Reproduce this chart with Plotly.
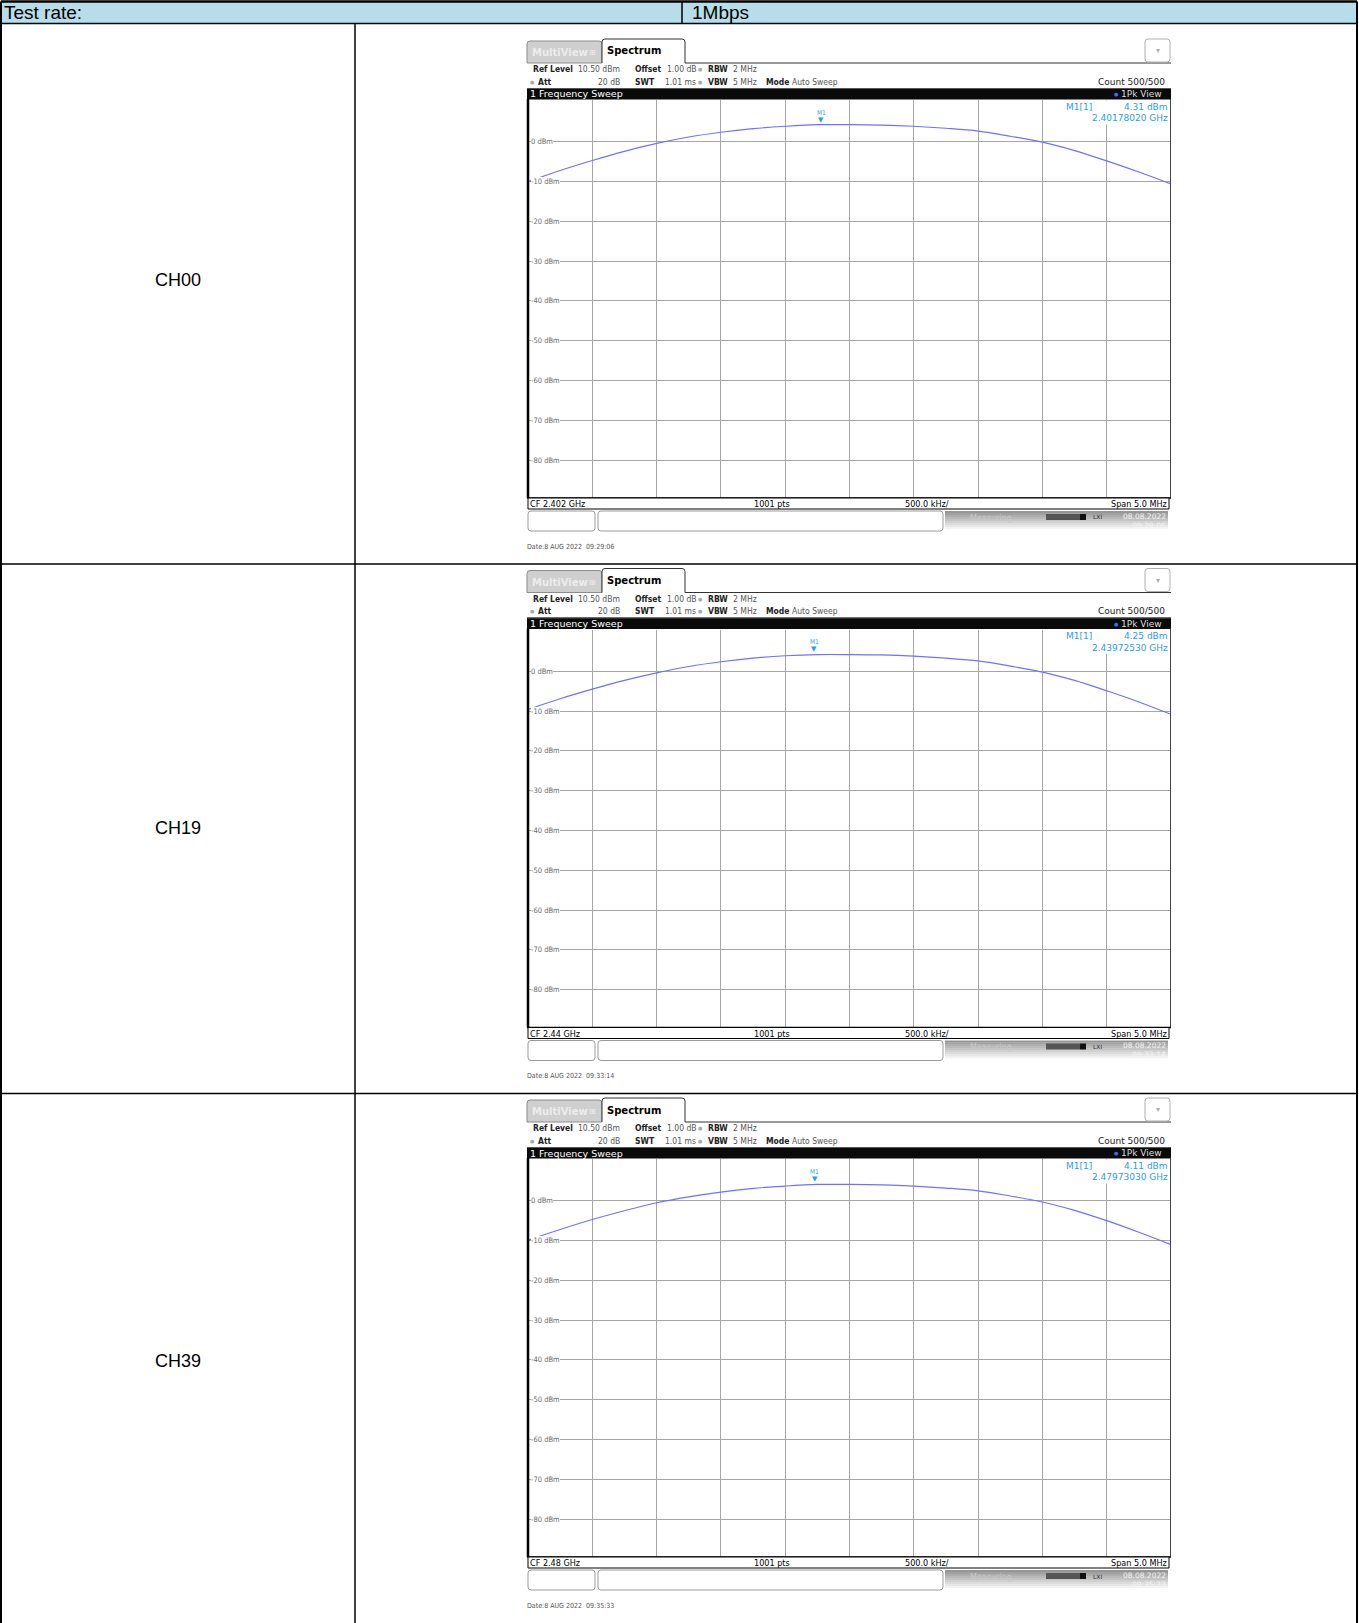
import plotly.graph_objects as go

W, H = 1359, 1623

# ---------------- data ----------------
header_left = "Test rate:"
header_right = "1Mbps"
channels = ["CH00", "CH19", "CH39"]
center_label = ["CF 2.402 GHz", "CF 2.44 GHz", "CF 2.48 GHz"]
center_ghz = [2.402, 2.44, 2.48]
marker_ghz = [2.40178020, 2.43972530, 2.47973030]
marker_dbm = [4.31, 4.25, 4.11]
dates = ["Date:8 AUG 2022  09:29:06", "Date:8 AUG 2022  09:33:14", "Date:8 AUG 2022  09:35:33"]

freq_offset_mhz = [-2.5, -2.25, -2.0, -1.75, -1.5, -1.25, -1.0, -0.75, -0.5, -0.25, 0.0,
                   0.25, 0.5, 0.75, 1.0, 1.25, 1.5, 1.75, 2.0, 2.25, 2.5]
trace_ch00 = [-10.0, -7.2, -4.7, -2.4, -0.4, 1.2, 2.4, 3.3, 3.9, 4.3, 4.3,
              4.2, 3.9, 3.4, 2.7, 1.4, -0.1, -2.2, -4.8, -7.6, -10.6]
trace_ch19 = [-9.6, -6.9, -4.5, -2.3, -0.4, 1.2, 2.4, 3.3, 3.9, 4.2, 4.2,
              4.1, 3.8, 3.3, 2.6, 1.3, -0.2, -2.3, -4.9, -7.7, -10.8]
trace_ch39 = [-9.9, -7.2, -4.7, -2.5, -0.5, 1.0, 2.2, 3.1, 3.7, 4.1, 4.1,
              4.0, 3.7, 3.2, 2.5, 1.2, -0.3, -2.4, -5.0, -7.9, -11.0]
traces = [trace_ch00, trace_ch19, trace_ch39]

y_tick_vals = [0, -10, -20, -30, -40, -50, -60, -70, -80]
y_tick_text = ["0 dBm", "-10 dBm", "-20 dBm", "-30 dBm", "-40 dBm", "-50 dBm", "-60 dBm", "-70 dBm", "-80 dBm"]
x_grid_vals = [-2.0, -1.5, -1.0, -0.5, 0.0, 0.5, 1.0, 1.5, 2.0]
ref_level = 10.5
y_bottom = -89.5
span_start, span_stop = -2.5, 2.5

# ---------------- helpers ----------------
shapes, annotations = [], []
SANS = "Liberation Sans, Arial, sans-serif"
RS = "DejaVu Sans, Verdana, sans-serif"
RSN = "DejaVu Sans Condensed, Liberation Sans Narrow, DejaVu Sans, sans-serif"


def X(px):
    return px / W


def Y(py):
    return 1 - py / H


def rect(x0, y0, x1, y1, fill=None, lc=None, lw=1, layer="above"):
    shapes.append(dict(type="rect", xref="paper", yref="paper",
                       x0=X(x0), x1=X(x1), y0=Y(y1), y1=Y(y0),
                       fillcolor=fill if fill else "rgba(0,0,0,0)",
                       line=dict(color=lc if lc else "rgba(0,0,0,0)", width=lw if lc else 0),
                       layer=layer))


def seg(x0, y0, x1, y1, color="black", w=1, layer="above"):
    shapes.append(dict(type="line", xref="paper", yref="paper",
                       x0=X(x0), x1=X(x1), y0=Y(y0), y1=Y(y1),
                       line=dict(color=color, width=w), layer=layer))


def path(pts, fill, lc, lw=1, close=True):
    d = ""
    for cmd in pts:
        kind, coords = cmd[0], cmd[1:]
        if kind in ("M", "L"):
            d += f"{kind}{X(coords[0])},{Y(coords[1])} "
        elif kind == "Q":
            d += f"Q{X(coords[0])},{Y(coords[1])} {X(coords[2])},{Y(coords[3])} "
    if close:
        d += "Z"
    shapes.append(dict(type="path", xref="paper", yref="paper", path=d,
                       fillcolor=fill, line=dict(color=lc, width=lw), layer="above"))


def text(x, y, s, size, color="black", family=SANS, xanchor="left", yanchor="middle", bg=None):
    a = dict(xref="paper", yref="paper", x=X(x), y=Y(y), text=s, showarrow=False,
             xanchor=xanchor, yanchor=yanchor, font=dict(size=size, color=color, family=family),
             borderpad=0, borderwidth=0)
    if bg:
        a["bgcolor"] = bg
    annotations.append(a)


# ---------------- table ----------------
TL, TR = 1, 1357
HEAD_T, HEAD_B = 1.5, 23.5
COL1 = 355
COL_H = 682
ROW_B = [564, 1093.5]

rect(TL, HEAD_T, TR, HEAD_B, fill="#b7dde8", layer="below")
text(4, 12.5, header_left, 19, "black", SANS)
text(COL_H + 10, 12.5, header_right, 19, "black", SANS)

label_y = [280, 828, 1361]
for i, ch in enumerate(channels):
    text(178, label_y[i], ch, 18, "black", SANS, xanchor="center")

# ---------------- spectrum screenshots ----------------
GX0, GX1 = 528, 1171
fig = go.Figure()
layout_axes = {}

for r in range(3):
    dy = r * 529.5
    gy0, gy1 = 100 + dy, 498 + dy

    # tabs
    path([("M", 527, 63 + dy), ("L", 527, 44 + dy), ("Q", 527, 41 + dy, 530, 41 + dy),
          ("L", 599, 41 + dy), ("Q", 602, 41 + dy, 602, 44 + dy), ("L", 602, 63 + dy)],
         "#cfcfcf", "#8c8c8c", 1)
    text(532, 52.5 + dy, "<b>MultiView</b>", 10, "#ececec", RS)
    text(592, 52.5 + dy, "⊞", 8, "#f0f0f0", RS, xanchor="center")
    path([("M", 602, 63 + dy), ("L", 602, 42 + dy), ("Q", 602, 39 + dy, 605, 39 + dy),
          ("L", 682, 39 + dy), ("Q", 685, 39 + dy, 685, 42 + dy), ("L", 685, 63 + dy)],
         "white", "#333333", 1, close=False)
    text(607, 51 + dy, "<b>Spectrum</b>", 10, "black", RS)
    seg(685, 63 + dy, 1171, 63 + dy, "#333333", 1)
    # dropdown
    path([("M", 1145, 42 + dy), ("Q", 1145, 39 + dy, 1148, 39 + dy), ("L", 1167, 39 + dy),
          ("Q", 1170, 39 + dy, 1170, 42 + dy), ("L", 1170, 59 + dy), ("Q", 1170, 62 + dy, 1167, 62 + dy),
          ("L", 1148, 62 + dy), ("Q", 1145, 62 + dy, 1145, 59 + dy)], "white", "#b0b0b0", 1)
    text(1157.5, 50.5 + dy, "▾", 8, "#b0b0b0", RS, xanchor="center")

    # info lines
    y1 = 69.3 + dy
    text(533, y1, "<b>Ref Level</b>", 8.5, "#222", RSN)
    text(578, y1, "10.50 dBm", 8.5, "#555", RSN)
    text(635, y1, "<b>Offset</b>", 8.5, "#222", RSN)
    text(667, y1, "1.00 dB", 8.5, "#555", RSN)
    text(700, y1, "●", 5, "#aaa", RS, xanchor="center")
    text(708, y1, "<b>RBW</b>", 8.5, "#222", RSN)
    text(733, y1, "2 MHz", 8.5, "#555", RSN)
    y2 = 81.7 + dy
    text(532, y2, "●", 5, "#aaa", RS, xanchor="center")
    text(538, y2, "<b>Att</b>", 8.5, "#222", RSN)
    text(620, y2, "20 dB", 8.5, "#555", RSN, xanchor="right")
    text(635, y2, "<b>SWT</b>", 8.5, "#222", RSN)
    text(665, y2, "1.01 ms", 8.5, "#555", RSN)
    text(700, y2, "●", 5, "#aaa", RS, xanchor="center")
    text(708, y2, "<b>VBW</b>", 8.5, "#222", RSN)
    text(733, y2, "5 MHz", 8.5, "#555", RSN)
    text(766, y2, "<b>Mode</b>", 8.5, "#222", RSN)
    text(792, y2, "Auto Sweep", 8.5, "#555", RSN)
    text(1165, y2, "Count 500/500", 9, "#222", RS, xanchor="right")

    # black title bar
    rect(527, 88 + dy, 1171, 99.5 + dy, fill="#0a0a0a")
    seg(527, 88.5 + dy, 1171, 88.5 + dy, "#555", 1)
    text(530, 94 + dy, "1 Frequency Sweep", 9.5, "white", RS)
    text(1116, 94 + dy, "●", 5, "#3a6cff", RS, xanchor="center")
    text(1162, 94 + dy, "1Pk View", 9, "#dddddd", RS, xanchor="right")

    # plot axes
    n = r + 1
    xa = "xaxis" if n == 1 else f"xaxis{n}"
    ya = "yaxis" if n == 1 else f"yaxis{n}"
    xr = "x" if n == 1 else f"x{n}"
    yr = "y" if n == 1 else f"y{n}"
    layout_axes[xa] = dict(domain=[X(GX0), X(GX1)], range=[span_start, span_stop], anchor=yr,
                           tickvals=x_grid_vals, showticklabels=False, showgrid=True,
                           gridcolor="#a6a6a6", gridwidth=1, zeroline=False, showline=False,
                           ticks="", fixedrange=True)
    layout_axes[ya] = dict(domain=[Y(gy1), Y(gy0)], range=[y_bottom, ref_level], anchor=xr,
                           tickvals=y_tick_vals, showticklabels=False, showgrid=True,
                           gridcolor="#a6a6a6", gridwidth=1, zeroline=False, showline=False,
                           ticks="", fixedrange=True)

    fig.add_trace(go.Scatter(x=freq_offset_mhz, y=traces[r], mode="lines",
                             line=dict(color="#7070ff", width=1.2, shape="spline", smoothing=1.0),
                             xaxis=xr, yaxis=yr, hoverinfo="skip", showlegend=False))

    # y tick labels inside grid
    for v, t in zip(y_tick_vals, y_tick_text):
        annotations.append(dict(xref="paper", yref=yr, x=X(531), y=v, text=t, showarrow=False,
                                xanchor="left", yanchor="middle",
                                font=dict(size=7.5, color="#6a6a6a", family=RSN),
                                bgcolor="white", borderpad=0, borderwidth=0))

    # marker
    mx = (marker_ghz[r] - center_ghz[r]) * 1000
    annotations.append(dict(xref=xr, yref=yr, x=mx, y=marker_dbm[r], text="▼", showarrow=False,
                            xanchor="center", yanchor="bottom", yshift=-1,
                            font=dict(size=7, color="#2a9ee6", family=RS)))
    annotations.append(dict(xref=xr, yref=yr, x=mx, y=marker_dbm[r], text="M1", showarrow=False,
                            xanchor="center", yanchor="bottom", yshift=6,
                            font=dict(size=6.5, color="#2a9ee6", family=RSN)))

    # marker info box
    rect(1062, 100.5 + dy, 1170, 124.5 + dy, fill="white")
    text(1066, 106.7 + dy, "M1[1]", 9, "#2a9ee6", RS)
    text(1168, 106.7 + dy, f"{marker_dbm[r]:.2f} dBm", 9, "#2a9ee6", RS, xanchor="right")
    text(1168, 118.3 + dy, f"{marker_ghz[r]:.8f} GHz", 9, "#2a9ee6", RS, xanchor="right")

    # frame
    seg(528, 99 + dy, 528, gy1, "black", 2.5)
    seg(1170.5, 99 + dy, 1170.5, gy1, "#444", 1)
    seg(527, gy1, 1171, gy1, "black", 1.5)

    # label bar
    rect(528, gy1, 1169, gy1 + 11, fill="white", lc="black", lw=1)
    text(530, gy1 + 6, center_label[r], 9, "black", RSN)
    text(772, gy1 + 6, "1001 pts", 9, "black", RSN, xanchor="center")
    text(927, gy1 + 6, "500.0 kHz/", 9, "black", RSN, xanchor="center")
    text(1167, gy1 + 6, "Span 5.0 MHz", 9, "black", RSN, xanchor="right")

    # status bar
    sb0, sb1 = gy1 + 13, gy1 + 33
    path([("M", 531, sb0), ("L", 592, sb0), ("Q", 595, sb0, 595, sb0 + 3), ("L", 595, sb1 - 3),
          ("Q", 595, sb1, 592, sb1), ("L", 531, sb1), ("Q", 528, sb1, 528, sb1 - 3),
          ("L", 528, sb0 + 3), ("Q", 528, sb0, 531, sb0)], "white", "#9a9a9a", 1)
    path([("M", 601, sb0), ("L", 940, sb0), ("Q", 943, sb0, 943, sb0 + 3), ("L", 943, sb1 - 3),
          ("Q", 943, sb1, 940, sb1), ("L", 601, sb1), ("Q", 598, sb1, 598, sb1 - 3),
          ("L", 598, sb0 + 3), ("Q", 598, sb0, 601, sb0)], "white", "#9a9a9a", 1)
    nstrip = 10
    for k in range(nstrip):
        g = int(150 + (255 - 150) * k / (nstrip - 1))
        rect(945, sb0 + k * (sb1 - sb0) / nstrip, 1168, sb0 + (k + 1) * (sb1 - sb0) / nstrip + 0.3,
             fill=f"rgb({g},{g},{g})")
    text(970, sb0 + 7, "Measuring...", 8, "#c8c8c8", RS)
    rect(1046, sb0 + 3, 1080, sb0 + 9, fill="#555")
    rect(1080, sb0 + 3, 1086, sb0 + 9, fill="#111")
    text(1093, sb0 + 6, "LXI", 6, "#333", RS)
    text(1166, sb0 + 5, "08.08.2022", 7.5, "#f4f4f4", RS, xanchor="right")
    text(1166, sb0 + 14, dates[r][-8:], 7.5, "#f4f4f4", RS, xanchor="right")

    # date line
    text(527, gy1 + 48.7, dates[r], 7, "#555555", RSN)

# table borders (drawn last to be on top)
seg(TL, HEAD_T, TR, HEAD_T, "black", 2.5)
seg(TL, HEAD_B, TR, HEAD_B, "black", 1.5)
for yb in ROW_B:
    seg(TL, yb, TR, yb, "black", 1.5)
seg(TL, HEAD_T, TL, H, "black", 2)
seg(TR, HEAD_T, TR, H, "black", 2)
seg(COL_H, HEAD_T, COL_H, HEAD_B, "black", 1.5)
seg(COL1, HEAD_B, COL1, H, "black", 1.5)

fig.update_layout(width=W, height=H, margin=dict(l=0, r=0, t=0, b=0),
                  paper_bgcolor="white", plot_bgcolor="rgba(0,0,0,0)",
                  showlegend=False, shapes=shapes, annotations=annotations, **layout_axes)

fig.write_html("out.html", config={"displayModeBar": False},
               post_script="document.body.style.margin='0px';document.body.style.overflow='hidden';")
